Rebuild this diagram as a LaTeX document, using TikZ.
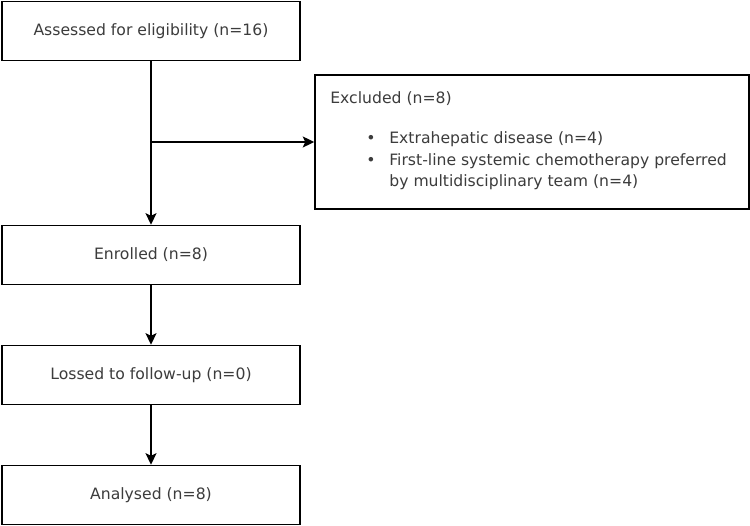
\documentclass[tikz,border=0pt]{standalone}
\usepackage{fontspec}
\setmainfont{DejaVu Sans}
\usepackage{tikz}
\usetikzlibrary{arrows.meta}
\definecolor{txtgray}{HTML}{3C3C3C}
\tikzset{
  block/.style={
    rectangle,
    draw,
    draw=black,
    fill=white,
    line width=0.9pt,
    minimum width=5.96cm,
    minimum height=1.18cm,
    inner sep=0pt,
    text=txtgray,
    font=\fontsize{8.9}{11}\selectfont
  },
  txt/.style={
    inner sep=0pt,
    anchor=west,
    text=txtgray,
    font=\fontsize{8.9}{11}\selectfont
  }
}
\tikzstyle{arrow} = [->, > = {Stealth[length=2.3mm, width=2.2mm, inset=0.5mm]}, line width=0.9pt]

\begin{document}
\begin{tikzpicture}[x=0.02cm, y=-0.02cm]
    \useasboundingbox (0, 0) rectangle (750, 526);
    \node[block] (assess) at (151, 31) {Assessed for eligibility (n=16)};
    \node[block] (enrol) at (151, 255) {Enrolled (n=8)};
    \node[block] (loss) at (151, 375) {Lossed to follow-up (n=0)};
    \node[block] (anal) at (151, 495) {Analysed (n=8)};
    \node[block, minimum width=8.68cm, minimum height=2.68cm] (excl) at (532, 142) {};
    % text of the excluded box
    \node[txt] (exhead) at (330, 99) {Excluded (n=8)};
    \node[txt] (exa) at (366, 139) {\makebox[0.46cm][l]{\textbullet}Extrahepatic disease (n=4)};
    \node[txt] (exb) at (366, 161) {\makebox[0.46cm][l]{\textbullet}First-line systemic chemotherapy preferred};
    \node[txt] (exc) at (389, 182) {by multidisciplinary team (n=4)};
    \coordinate (split) at (assess.south |- excl.west);
    \draw[arrow] (assess) -- (enrol);
    \draw[arrow] (split) -- (excl.west);
    \draw[arrow] (enrol) -- (loss);
    \draw[arrow] (loss) -- (anal);
\end{tikzpicture}
\end{document}
